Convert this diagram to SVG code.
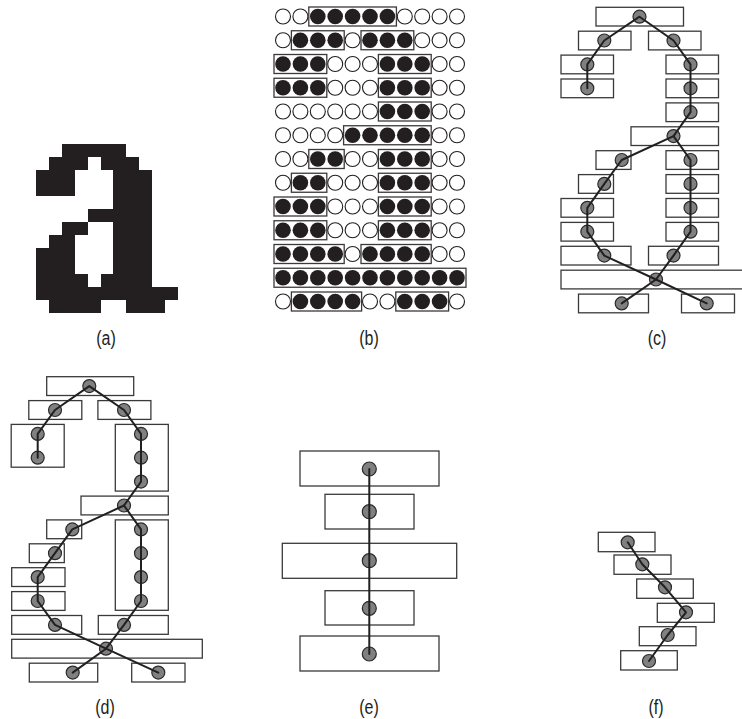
<svg xmlns="http://www.w3.org/2000/svg" width="742" height="719" viewBox="0 0 742 719">
<style>
.bx{fill:#fff;stroke:#3a3a3a;stroke-width:1.3}
.bb{fill:none;stroke:#3a3a3a;stroke-width:1.3}
.nd{fill:#808080;stroke:#2a2a2a;stroke-width:1.2}
.ln{fill:none;stroke:#231f20;stroke-width:2;stroke-linejoin:round;stroke-linecap:round}
.lb{font-family:"Liberation Sans Narrow","Liberation Sans",Arial,sans-serif;font-size:20px;fill:#231f20;text-anchor:middle}
</style>
<defs>
<circle id="e" r="7.5" fill="#fff" stroke="#231f20" stroke-width="1.1"/>
<circle id="k" r="7.8" fill="#231f20"/>
</defs>

<!-- (a) bitmap -->
<g id="panel-a">
<path transform="translate(36,144.3) scale(12.9,12.97)" fill="#231f20" shape-rendering="crispEdges" d="M2,0h5v1h-5z M1,1h3v1h-3z M5,1h3v1h-3z M0,2h3v2h-3z M6,2h3v2h-3z M6,4h3v1h-3z M4,5h5v1h-5z M2,6h2v1h-2z M6,6h3v1h-3z M1,7h2v1h-2z M6,7h3v1h-3z M0,8h3v2h-3z M6,8h3v2h-3z M0,10h4v1h-4z M5,10h4v1h-4z M0,11h11v1h-11z M1,12h4v1h-4z M7,12h3v1h-3z"/>
</g>

<!-- (b) grid -->
<g id="panel-b">
<g transform="translate(0,16.5)"><use href="#e" x="283"/><use href="#e" x="300.4"/><use href="#k" x="317.8"/><use href="#k" x="335.2"/><use href="#k" x="352.6"/><use href="#k" x="370"/><use href="#k" x="387.4"/><use href="#e" x="404.8"/><use href="#e" x="422.2"/><use href="#e" x="439.6"/><use href="#e" x="457"/></g>
<g transform="translate(0,40.25)"><use href="#e" x="283"/><use href="#k" x="300.4"/><use href="#k" x="317.8"/><use href="#k" x="335.2"/><use href="#e" x="352.6"/><use href="#k" x="370"/><use href="#k" x="387.4"/><use href="#k" x="404.8"/><use href="#e" x="422.2"/><use href="#e" x="439.6"/><use href="#e" x="457"/></g>
<g transform="translate(0,64)"><use href="#k" x="283"/><use href="#k" x="300.4"/><use href="#k" x="317.8"/><use href="#e" x="335.2"/><use href="#e" x="352.6"/><use href="#e" x="370"/><use href="#k" x="387.4"/><use href="#k" x="404.8"/><use href="#k" x="422.2"/><use href="#e" x="439.6"/><use href="#e" x="457"/></g>
<g transform="translate(0,87.75)"><use href="#k" x="283"/><use href="#k" x="300.4"/><use href="#k" x="317.8"/><use href="#e" x="335.2"/><use href="#e" x="352.6"/><use href="#e" x="370"/><use href="#k" x="387.4"/><use href="#k" x="404.8"/><use href="#k" x="422.2"/><use href="#e" x="439.6"/><use href="#e" x="457"/></g>
<g transform="translate(0,111.5)"><use href="#e" x="283"/><use href="#e" x="300.4"/><use href="#e" x="317.8"/><use href="#e" x="335.2"/><use href="#e" x="352.6"/><use href="#e" x="370"/><use href="#k" x="387.4"/><use href="#k" x="404.8"/><use href="#k" x="422.2"/><use href="#e" x="439.6"/><use href="#e" x="457"/></g>
<g transform="translate(0,135.25)"><use href="#e" x="283"/><use href="#e" x="300.4"/><use href="#e" x="317.8"/><use href="#e" x="335.2"/><use href="#k" x="352.6"/><use href="#k" x="370"/><use href="#k" x="387.4"/><use href="#k" x="404.8"/><use href="#k" x="422.2"/><use href="#e" x="439.6"/><use href="#e" x="457"/></g>
<g transform="translate(0,159)"><use href="#e" x="283"/><use href="#e" x="300.4"/><use href="#k" x="317.8"/><use href="#k" x="335.2"/><use href="#e" x="352.6"/><use href="#e" x="370"/><use href="#k" x="387.4"/><use href="#k" x="404.8"/><use href="#k" x="422.2"/><use href="#e" x="439.6"/><use href="#e" x="457"/></g>
<g transform="translate(0,182.75)"><use href="#e" x="283"/><use href="#k" x="300.4"/><use href="#k" x="317.8"/><use href="#e" x="335.2"/><use href="#e" x="352.6"/><use href="#e" x="370"/><use href="#k" x="387.4"/><use href="#k" x="404.8"/><use href="#k" x="422.2"/><use href="#e" x="439.6"/><use href="#e" x="457"/></g>
<g transform="translate(0,206.5)"><use href="#k" x="283"/><use href="#k" x="300.4"/><use href="#k" x="317.8"/><use href="#e" x="335.2"/><use href="#e" x="352.6"/><use href="#e" x="370"/><use href="#k" x="387.4"/><use href="#k" x="404.8"/><use href="#k" x="422.2"/><use href="#e" x="439.6"/><use href="#e" x="457"/></g>
<g transform="translate(0,230.25)"><use href="#k" x="283"/><use href="#k" x="300.4"/><use href="#k" x="317.8"/><use href="#e" x="335.2"/><use href="#e" x="352.6"/><use href="#e" x="370"/><use href="#k" x="387.4"/><use href="#k" x="404.8"/><use href="#k" x="422.2"/><use href="#e" x="439.6"/><use href="#e" x="457"/></g>
<g transform="translate(0,254)"><use href="#k" x="283"/><use href="#k" x="300.4"/><use href="#k" x="317.8"/><use href="#k" x="335.2"/><use href="#e" x="352.6"/><use href="#k" x="370"/><use href="#k" x="387.4"/><use href="#k" x="404.8"/><use href="#k" x="422.2"/><use href="#e" x="439.6"/><use href="#e" x="457"/></g>
<g transform="translate(0,277.75)"><use href="#k" x="283"/><use href="#k" x="300.4"/><use href="#k" x="317.8"/><use href="#k" x="335.2"/><use href="#k" x="352.6"/><use href="#k" x="370"/><use href="#k" x="387.4"/><use href="#k" x="404.8"/><use href="#k" x="422.2"/><use href="#k" x="439.6"/><use href="#k" x="457"/></g>
<g transform="translate(0,301.5)"><use href="#e" x="283"/><use href="#k" x="300.4"/><use href="#k" x="317.8"/><use href="#k" x="335.2"/><use href="#k" x="352.6"/><use href="#e" x="370"/><use href="#e" x="387.4"/><use href="#k" x="404.8"/><use href="#k" x="422.2"/><use href="#k" x="439.6"/><use href="#e" x="457"/></g>
<g id="b-boxes">
<rect class="bb" x="308.8" y="7" width="87.6" height="19"/>
<rect class="bb" x="291.4" y="30.75" width="52.8" height="19"/><rect class="bb" x="361" y="30.75" width="52.8" height="19"/>
<rect class="bb" x="274" y="54.5" width="52.8" height="19"/><rect class="bb" x="378.4" y="54.5" width="52.8" height="19"/>
<rect class="bb" x="274" y="78.25" width="52.8" height="19"/><rect class="bb" x="378.4" y="78.25" width="52.8" height="19"/>
<rect class="bb" x="378.4" y="102" width="52.8" height="19"/>
<rect class="bb" x="343.6" y="125.75" width="87.6" height="19"/>
<rect class="bb" x="308.8" y="149.5" width="35.4" height="19"/><rect class="bb" x="378.4" y="149.5" width="52.8" height="19"/>
<rect class="bb" x="291.4" y="173.25" width="35.4" height="19"/><rect class="bb" x="378.4" y="173.25" width="52.8" height="19"/>
<rect class="bb" x="274" y="197" width="52.8" height="19"/><rect class="bb" x="378.4" y="197" width="52.8" height="19"/>
<rect class="bb" x="274" y="220.75" width="52.8" height="19"/><rect class="bb" x="378.4" y="220.75" width="52.8" height="19"/>
<rect class="bb" x="274" y="244.5" width="70.2" height="19"/><rect class="bb" x="361" y="244.5" width="70.2" height="19"/>
<rect class="bb" x="274" y="268.25" width="192" height="19"/>
<rect class="bb" x="291.4" y="292" width="70.2" height="19"/><rect class="bb" x="395.8" y="292" width="52.8" height="19"/>
</g>
</g>

<!-- (c) -->
<g id="panel-c">
<g id="c1"><rect class="bx" x="596" y="7.3" width="87.5" height="18.7"/><circle class="nd" cx="639.5" cy="16.7" r="6.5"/></g>
<g id="c2l"><rect class="bx" x="578.5" y="31.2" width="52.5" height="18.7"/><circle class="nd" cx="604.3" cy="40.5" r="6.5"/></g>
<g id="c2r"><rect class="bx" x="648.5" y="31.2" width="52.5" height="18.7"/><circle class="nd" cx="673.5" cy="40.5" r="6.5"/></g>
<g id="c3l"><rect class="bx" x="561" y="55.1" width="52.5" height="18.7"/><circle class="nd" cx="587.3" cy="64.4" r="6.5"/></g>
<g id="c3r"><rect class="bx" x="666" y="55.1" width="52.5" height="18.7"/><circle class="nd" cx="690.5" cy="64.4" r="6.5"/></g>
<g id="c4l"><rect class="bx" x="561" y="79" width="52.5" height="18.7"/><circle class="nd" cx="587.3" cy="88.3" r="6.5"/></g>
<g id="c4r"><rect class="bx" x="666" y="79" width="52.5" height="18.7"/><circle class="nd" cx="690.5" cy="88.3" r="6.5"/></g>
<g id="c5r"><rect class="bx" x="666" y="102.9" width="52.5" height="18.7"/><circle class="nd" cx="690.5" cy="112.2" r="6.5"/></g>
<g id="c6"><rect class="bx" x="631" y="126.8" width="87.5" height="18.7"/><circle class="nd" cx="673.5" cy="136.1" r="6.5"/></g>
<g id="c7l"><rect class="bx" x="596" y="150.7" width="35" height="18.7"/><circle class="nd" cx="621.7" cy="160" r="6.5"/></g>
<g id="c7r"><rect class="bx" x="666" y="150.7" width="52.5" height="18.7"/><circle class="nd" cx="690.5" cy="160" r="6.5"/></g>
<g id="c8l"><rect class="bx" x="578.5" y="174.6" width="35" height="18.7"/><circle class="nd" cx="604.3" cy="183.9" r="6.5"/></g>
<g id="c8r"><rect class="bx" x="666" y="174.6" width="52.5" height="18.7"/><circle class="nd" cx="690.5" cy="183.9" r="6.5"/></g>
<g id="c9l"><rect class="bx" x="561" y="198.5" width="52.5" height="18.7"/><circle class="nd" cx="587.3" cy="207.8" r="6.5"/></g>
<g id="c9r"><rect class="bx" x="666" y="198.5" width="52.5" height="18.7"/><circle class="nd" cx="690.5" cy="207.8" r="6.5"/></g>
<g id="c10l"><rect class="bx" x="561" y="222.4" width="52.5" height="18.7"/><circle class="nd" cx="587.3" cy="231.7" r="6.5"/></g>
<g id="c10r"><rect class="bx" x="666" y="222.4" width="52.5" height="18.7"/><circle class="nd" cx="690.5" cy="231.7" r="6.5"/></g>
<g id="c11l"><rect class="bx" x="561" y="246.3" width="70" height="18.7"/><circle class="nd" cx="604.3" cy="255.6" r="6.5"/></g>
<g id="c11r"><rect class="bx" x="648.5" y="246.3" width="70" height="18.7"/><circle class="nd" cx="673.5" cy="255.6" r="6.5"/></g>
<g id="c12"><rect class="bx" x="561" y="270.2" width="192.5" height="18.7"/><circle class="nd" cx="656" cy="279.5" r="6.5"/></g>
<g id="c13l"><rect class="bx" x="578.5" y="294.1" width="70" height="18.7"/><circle class="nd" cx="621.7" cy="303.4" r="6.5"/></g>
<g id="c13r"><rect class="bx" x="681.5" y="294.1" width="53" height="18.7"/><circle class="nd" cx="706.7" cy="303.4" r="6.5"/></g>
</g>

<!-- (d) -->
<g id="panel-d">
<g id="d1"><rect class="bx" x="46.7" y="376.7" width="87" height="18.8"/><circle class="nd" cx="89.3" cy="386.1" r="6.5"/></g>
<g id="d2l"><rect class="bx" x="28.8" y="400.6" width="53" height="18.8"/><circle class="nd" cx="55" cy="410" r="6.5"/></g>
<g id="d2r"><rect class="bx" x="97.9" y="400.6" width="53" height="18.8"/><circle class="nd" cx="124" cy="410" r="6.5"/></g>
<g id="d3l"><rect class="bx" x="11.2" y="424.4" width="53" height="42.8"/><circle class="nd" cx="37.7" cy="433.9" r="6.5"/><circle class="nd" cx="37.7" cy="457.7" r="6.5"/></g>
<g id="d3r"><rect class="bx" x="115.3" y="424.4" width="53" height="66.7"/><circle class="nd" cx="141" cy="433.9" r="6.5"/><circle class="nd" cx="141" cy="457.7" r="6.5"/><circle class="nd" cx="141" cy="481.6" r="6.5"/></g>
<g id="d6"><rect class="bx" x="81" y="496.1" width="87.3" height="18.8"/><circle class="nd" cx="124" cy="505.5" r="6.5"/></g>
<g id="d7l"><rect class="bx" x="46.7" y="519.9" width="35" height="18.8"/><circle class="nd" cx="72.3" cy="529.4" r="6.5"/></g>
<g id="d7r"><rect class="bx" x="115.3" y="519.9" width="53" height="90.4"/><circle class="nd" cx="141" cy="529.4" r="6.5"/><circle class="nd" cx="141" cy="553.2" r="6.5"/><circle class="nd" cx="141" cy="577.1" r="6.5"/><circle class="nd" cx="141" cy="601" r="6.5"/></g>
<g id="d8l"><rect class="bx" x="29.3" y="543.8" width="35" height="18.8"/><circle class="nd" cx="55" cy="553.2" r="6.5"/></g>
<g id="d9l"><rect class="bx" x="11.7" y="567.7" width="53.3" height="18.8"/><circle class="nd" cx="37.7" cy="577.1" r="6.5"/></g>
<g id="d10l"><rect class="bx" x="11.7" y="591.6" width="53.3" height="18.8"/><circle class="nd" cx="37.7" cy="601" r="6.5"/></g>
<g id="d11l"><rect class="bx" x="11.7" y="615.5" width="70" height="18.8"/><circle class="nd" cx="55" cy="624.9" r="6.5"/></g>
<g id="d11r"><rect class="bx" x="98.3" y="615.5" width="70" height="18.8"/><circle class="nd" cx="124" cy="624.9" r="6.5"/></g>
<g id="d12"><rect class="bx" x="11.7" y="639.3" width="190.6" height="18.8"/><circle class="nd" cx="106" cy="648.7" r="6.5"/></g>
<g id="d13l"><rect class="bx" x="29.3" y="663.2" width="68.4" height="18.8"/><circle class="nd" cx="72.7" cy="672.6" r="6.5"/></g>
<g id="d13r"><rect class="bx" x="131.7" y="663.2" width="53.3" height="18.8"/><circle class="nd" cx="158.3" cy="672.6" r="6.5"/></g>
</g>

<!-- (e) -->
<g id="panel-e">
<g id="e1"><rect class="bx" x="300" y="451" width="139" height="35"/><circle class="nd" cx="369.3" cy="469" r="7"/></g>
<g id="e2"><rect class="bx" x="325" y="494.3" width="89" height="34.7"/><circle class="nd" cx="369.3" cy="511.7" r="7"/></g>
<g id="e3"><rect class="bx" x="282.3" y="543.3" width="174.4" height="35"/><circle class="nd" cx="369.3" cy="560.7" r="7"/></g>
<g id="e4"><rect class="bx" x="325" y="590.7" width="89" height="34.3"/><circle class="nd" cx="369.3" cy="608.3" r="7"/></g>
<g id="e5"><rect class="bx" x="300" y="636" width="139" height="35"/><circle class="nd" cx="369.3" cy="654" r="7"/></g>
</g>

<!-- (f) -->
<g id="panel-f">
<g id="f1"><rect class="bx" x="598.3" y="532.3" width="56.7" height="19.4"/><circle class="nd" cx="627.7" cy="542.3" r="6.5"/></g>
<g id="f2"><rect class="bx" x="614" y="555" width="57" height="19.3"/><circle class="nd" cx="642.3" cy="564.3" r="6.5"/></g>
<g id="f3"><rect class="bx" x="636.7" y="579" width="56.6" height="19.3"/><circle class="nd" cx="665" cy="587.3" r="6.5"/></g>
<g id="f4"><rect class="bx" x="657.3" y="603.3" width="57" height="19"/><circle class="nd" cx="686" cy="612.3" r="6.5"/></g>
<g id="f5"><rect class="bx" x="639.3" y="626.7" width="56.7" height="19"/><circle class="nd" cx="667.7" cy="635" r="6.5"/></g>
<g id="f6"><rect class="bx" x="620.7" y="650.7" width="56.6" height="19.3"/><circle class="nd" cx="649" cy="661" r="6.5"/></g>
</g>

<!-- connectors -->
<g id="connectors" class="ln">
<polyline points="587.3,88.3 587.3,64.4 604.3,40.5 639.5,16.7 673.5,40.5 690.5,64.4 690.5,88.3 690.5,112.2 673.5,136.1 690.5,160 690.5,183.9 690.5,207.8 690.5,231.7 673.5,255.6 656,279.5 621.7,303.4"/>
<polyline points="673.5,136.1 621.7,160 604.3,183.9 587.3,207.8 587.3,231.7 604.3,255.6 656,279.5 706.7,303.4"/>
<polyline points="37.7,457.7 37.7,433.9 55,410 89.3,386.1 124,410 141,433.9 141,457.7 141,481.6 124,505.5 141,529.4 141,553.2 141,577.1 141,601 124,624.9 106,648.7 72.7,672.6"/>
<polyline points="124,505.5 72.3,529.4 55,553.2 37.7,577.1 37.7,601 55,624.9 106,648.7 158.3,672.6"/>
<line x1="369.3" y1="469" x2="369.3" y2="654"/>
<polyline points="627.7,542.3 642.3,564.3 665,587.3 686,612.3 667.7,635 649,661"/>
</g>

<!-- labels -->
<g id="labels">
<text class="lb" transform="translate(106,345) scale(0.8,1)">(a)</text>
<text class="lb" transform="translate(369,345) scale(0.8,1)">(b)</text>
<text class="lb" transform="translate(657,345) scale(0.8,1)">(c)</text>
<text class="lb" transform="translate(105,714) scale(0.8,1)">(d)</text>
<text class="lb" transform="translate(369,714) scale(0.8,1)">(e)</text>
<text class="lb" transform="translate(656,714) scale(0.8,1)">(f)</text>
</g>
</svg>
